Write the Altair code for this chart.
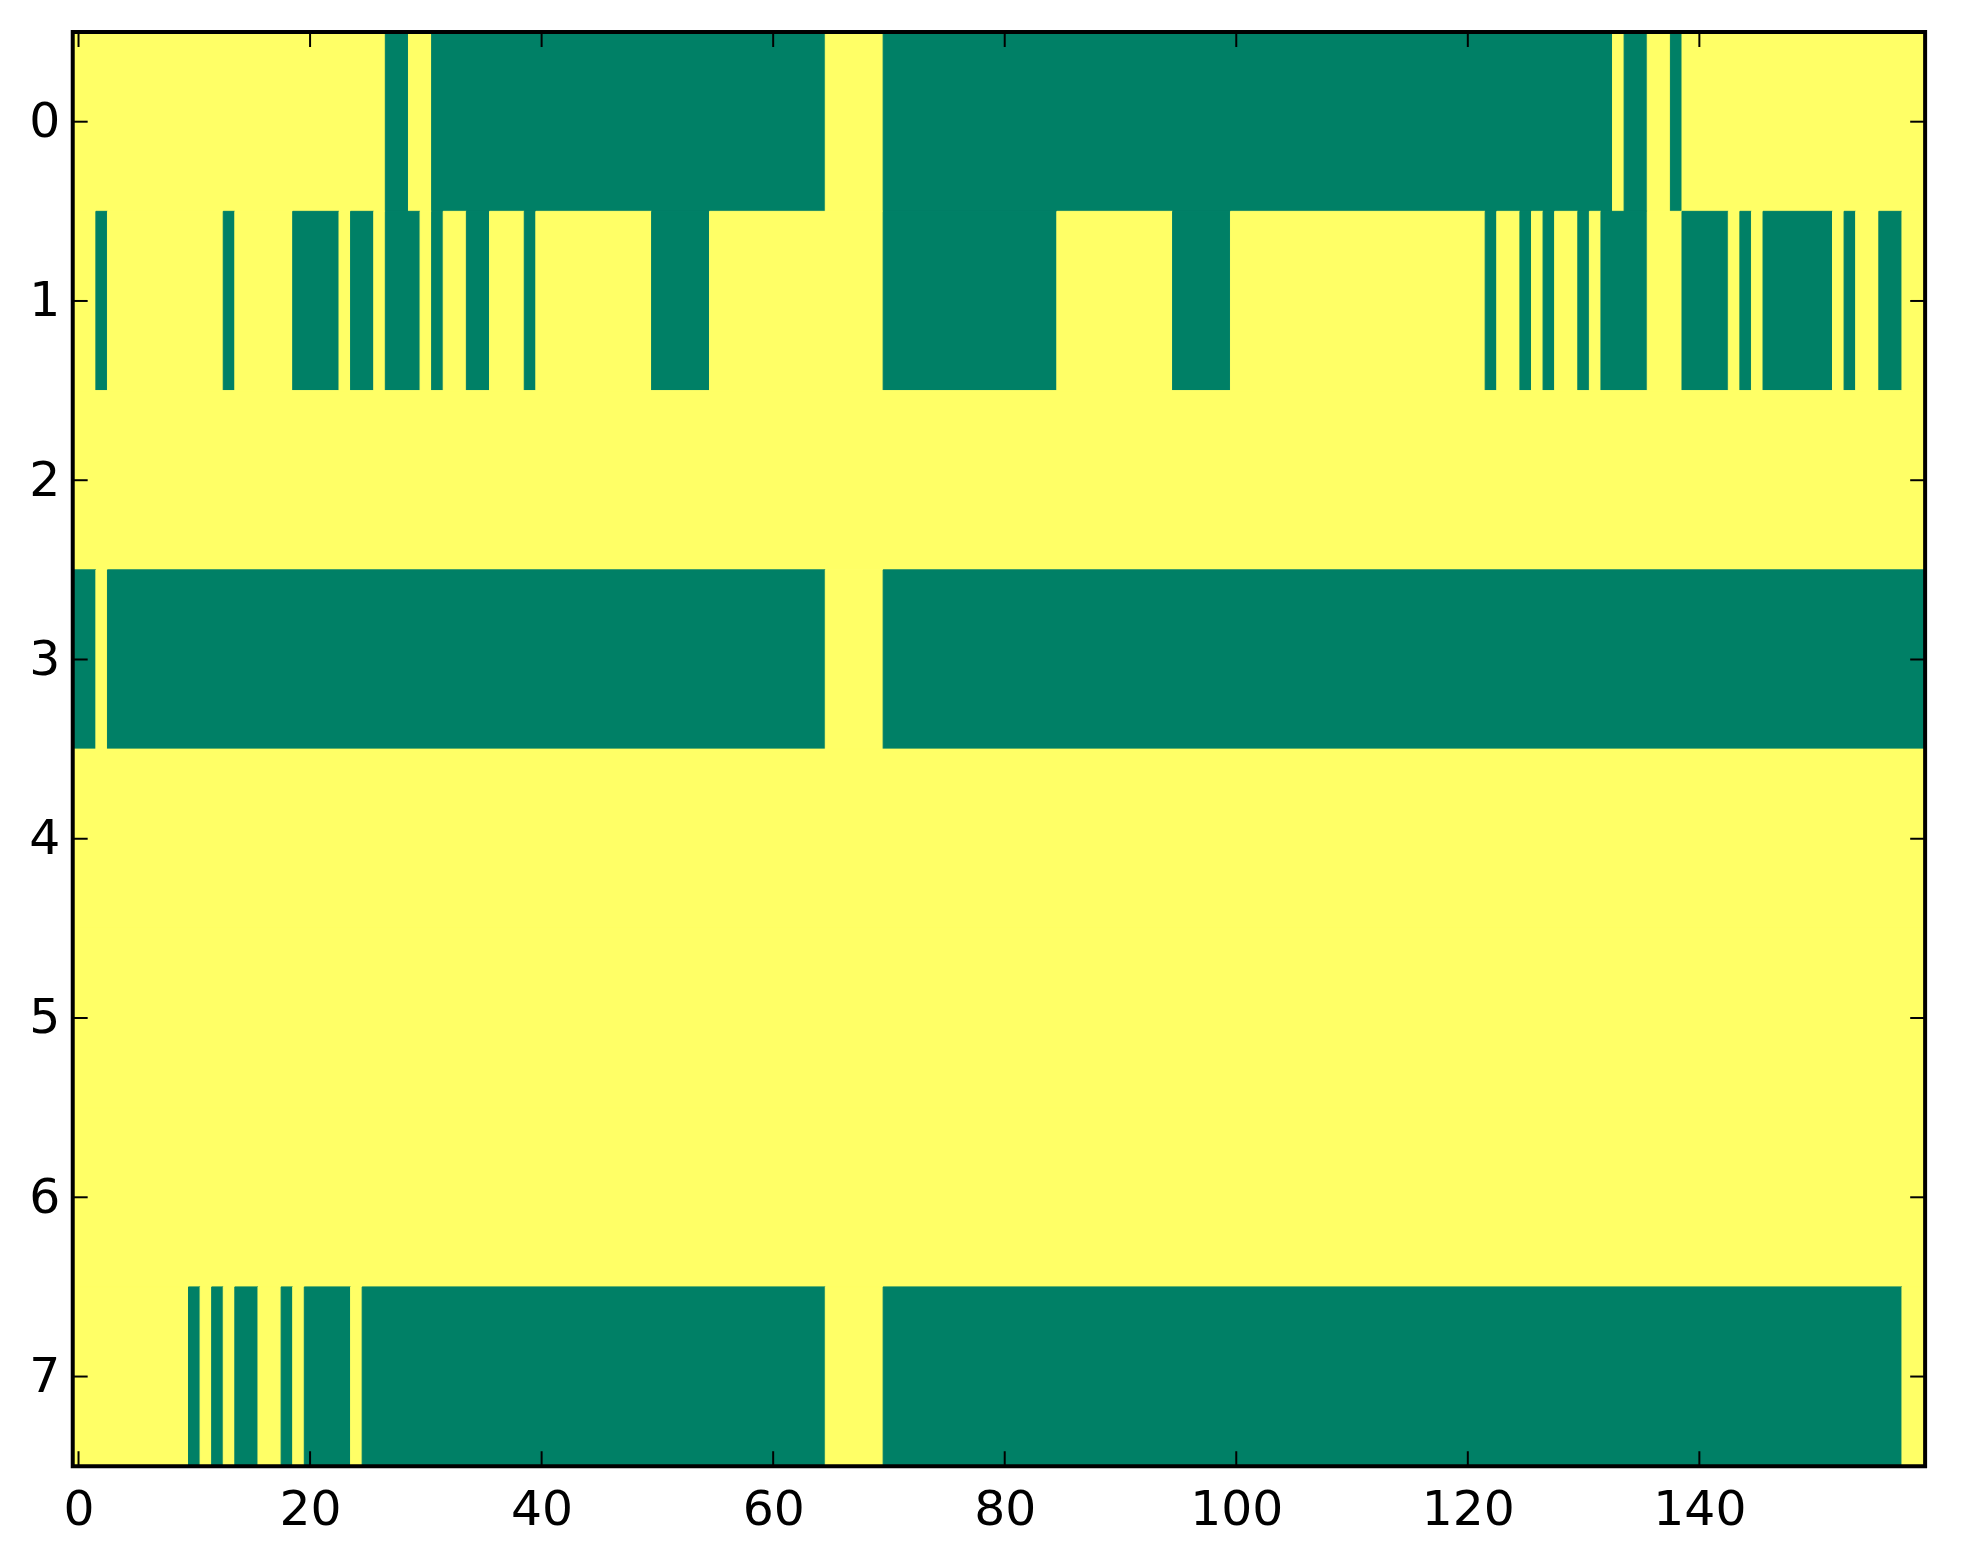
import altair as alt
import pandas as pd

n_cols = 160
n_rows = 8

# Green (value 0) column runs per row, inclusive; everything else is yellow (value 1)
green_runs = {
    0: [(27, 28), (31, 64), (70, 132), (134, 135), (138, 138)],
    1: [(2, 2), (13, 13), (19, 22), (24, 25), (27, 29), (31, 31), (34, 35), (39, 39),
        (50, 54), (70, 84), (95, 99), (122, 122), (125, 125), (127, 127), (130, 130),
        (132, 135), (139, 142), (144, 144), (146, 151), (153, 153), (156, 157)],
    2: [],
    3: [(0, 1), (3, 64), (70, 159)],
    4: [],
    5: [],
    6: [],
    7: [(10, 10), (12, 12), (14, 15), (18, 18), (20, 23), (25, 64), (70, 157)],
}

x_ticks = [0, 20, 40, 60, 80, 100, 120, 140]
y_ticks = [0, 1, 2, 3, 4, 5, 6, 7]

# build the cell grid, then merge equal neighbours into runs
records = []
for r in range(n_rows):
    vals = [1] * n_cols
    for a, b in green_runs[r]:
        for c in range(a, b + 1):
            vals[c] = 0
    start = 0
    for c in range(1, n_cols + 1):
        if c == n_cols or vals[c] != vals[start]:
            records.append({"x0": start - 0.5, "x1": c - 0.5,
                            "y0": r - 0.5, "y1": r + 0.5, "v": vals[start]})
            start = c
df = pd.DataFrame(records)

W, H = 1860, 1440
TL = 15
FONT = "DejaVu Sans"

xs = alt.Scale(domain=[-0.5, n_cols - 0.5], nice=False, zero=False)
ys = alt.Scale(domain=[-0.5, n_rows - 0.5], nice=False, zero=False, reverse=True)

x_axis = alt.Axis(values=x_ticks, title=None, ticks=False, domain=False, grid=False,
                  labelFont=FONT, labelFontSize=49, labelColor="black",
                  labelPadding=20, format="d")
y_axis = alt.Axis(values=y_ticks, title=None, ticks=False, domain=False, grid=False,
                  labelFont=FONT, labelFontSize=49, labelColor="black",
                  labelPadding=13, format="d")

cscale = alt.Scale(domain=[0, 1], range=["#008066", "#ffff66"])

rects = alt.Chart(df).mark_rect(strokeWidth=1).encode(
    x=alt.X("x0:Q", scale=xs, axis=x_axis),
    x2="x1:Q",
    y=alt.Y("y0:Q", scale=ys, axis=y_axis),
    y2="y1:Q",
    color=alt.Color("v:O", scale=cscale, legend=None),
    stroke=alt.Stroke("v:O", scale=cscale, legend=None),
)

xt = pd.DataFrame({"t": x_ticks})
yt = pd.DataFrame({"t": y_ticks})

xtick_top = alt.Chart(xt).mark_rule(color="black", strokeWidth=2).encode(
    x=alt.X("t:Q", scale=xs, axis=x_axis), y=alt.value(0), y2=alt.value(TL))
xtick_bot = alt.Chart(xt).mark_rule(color="black", strokeWidth=2).encode(
    x=alt.X("t:Q", scale=xs, axis=x_axis), y=alt.value(H - TL), y2=alt.value(H))
ytick_left = alt.Chart(yt).mark_rule(color="black", strokeWidth=2).encode(
    y=alt.Y("t:Q", scale=ys, axis=y_axis), x=alt.value(0), x2=alt.value(TL))
ytick_right = alt.Chart(yt).mark_rule(color="black", strokeWidth=2).encode(
    y=alt.Y("t:Q", scale=ys, axis=y_axis), x=alt.value(W - TL), x2=alt.value(W))

frame = alt.Chart(pd.DataFrame({"k": [0]})).mark_rect(
    fill=None, fillOpacity=0, stroke="black", strokeWidth=4
).encode(x=alt.value(0), x2=alt.value(W), y=alt.value(0), y2=alt.value(H))

chart = alt.layer(rects, xtick_top, xtick_bot, ytick_left, ytick_right, frame).properties(
    width=W, height=H,
    autosize=alt.AutoSizeParams(type="none"),
    padding={"left": 65, "top": 21, "right": 30, "bottom": 80},
).configure_view(stroke=None).configure(background="white")

chart.save("out.html", embed_options={"renderer": "svg", "actions": False})
